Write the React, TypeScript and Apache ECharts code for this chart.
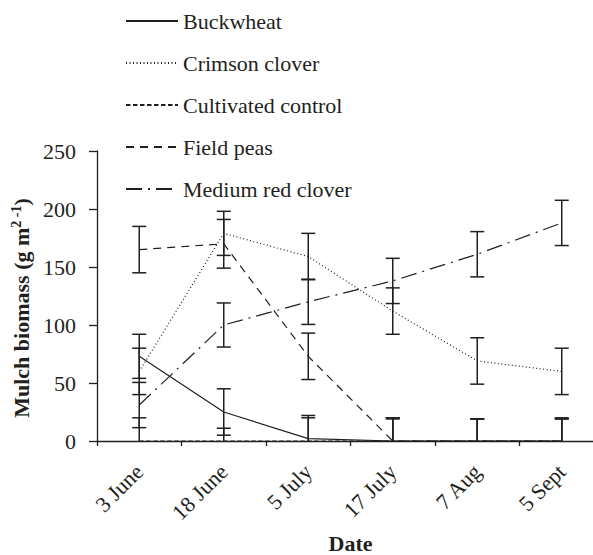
import React, { useEffect, useRef } from "react";
import * as echarts from "echarts";

const categories = ["3 June", "18 June", "5 July", "17 July", "7 Aug", "5 Sept"];
const yTicks = [0, 50, 100, 150, 200, 250];

const buckwheat = [73, 25, 2, 0, 0, 0];
const crimsonClover = [60, 179, 159, 112, 69, 60];
const cultivatedControl = [0, 0, 0, 0, 0, 0];
const fieldPeas = [165, 170, 73, 0, 0, 0];
const mediumRedClover = [31, 100, 120, 138, 161, 188];

const buckwheatSE = [19, 20, 20, 19, 19, 19];
const crimsonCloverSE = [20, 19, 20, 20, 20, 20];
const cultivatedControlSE = [20, 11, 20, 20, 19, 20];
const fieldPeasSE = [20, 21, 20, 20, 19, 19];
const mediumRedCloverSE = [19.5, 19, 19.5, 19.5, 19.5, 19.5];

const seriesNames = ["Buckwheat", "Crimson clover", "Cultivated control", "Field peas", "Medium red clover"];
const seriesValues = [buckwheat, crimsonClover, cultivatedControl, fieldPeas, mediumRedClover];
const seriesSE = [buckwheatSE, crimsonCloverSE, cultivatedControlSE, fieldPeasSE, mediumRedCloverSE];
const dashTypes: any[] = ["solid", [1, 2.5], [4.5, 2.5], [8, 6], [16, 6, 2, 6]];

const FONT = "Liberation Serif";
const INK = "#231f20";

export default function App() {
  const ref = useRef<HTMLDivElement>(null);
  useEffect(() => {
    if (!ref.current) return;
    const chart = echarts.init(ref.current, undefined, { renderer: "svg" });

    const lineSeries = seriesNames.map((name, k) => ({
      name,
      type: "line",
      data: seriesValues[k],
      symbol: "none",
      showSymbol: false,
      lineStyle: { color: INK, width: 1.2, type: dashTypes[k] },
      itemStyle: { color: INK },
      z: 3,
    }));

    const errorSeries = seriesNames.map((name, k) => ({
      name: name + " SE",
      type: "custom",
      data: categories.map((c, i) => [i, seriesValues[k][i], seriesSE[k][i]]),
      renderItem: (params: any, api: any) => {
        const x = api.value(0);
        const v = api.value(1);
        const e = api.value(2);
        const hi = v + e;
        const lo = Math.max(0, v - e);
        const pHi = api.coord([x, hi]);
        const pLo = api.coord([x, lo]);
        const w = 7;
        const style = { stroke: INK, lineWidth: 1.5, fill: "none" };
        const children: any[] = [
          { type: "line", shape: { x1: pHi[0], y1: pHi[1], x2: pLo[0], y2: pLo[1] }, style },
          { type: "line", shape: { x1: pHi[0] - w, y1: pHi[1], x2: pHi[0] + w, y2: pHi[1] }, style },
        ];
        if (v - e > 0) {
          children.push({ type: "line", shape: { x1: pLo[0] - w, y1: pLo[1], x2: pLo[0] + w, y2: pLo[1] }, style });
        }
        return { type: "group", children };
      },
      z: 4,
    }));

    chart.setOption({
      animation: false,
      backgroundColor: "#fff",
      textStyle: { fontFamily: FONT, color: INK },
      legend: {
        data: seriesNames,
        orient: "vertical",
        left: 120,
        top: 5,
        itemWidth: 52,
        itemHeight: 22,
        itemGap: 20,
        itemStyle: { color: "rgba(0,0,0,0)", borderColor: "rgba(0,0,0,0)", borderWidth: 0, opacity: 0 },
        textStyle: { fontFamily: FONT, fontSize: 22, color: INK, lineHeight: 22 },
      },
      grid: { left: 97, top: 151, width: 507, height: 290, containLabel: false, outerBoundsMode: "none" },
      xAxis: {
        type: "category",
        data: categories,
        boundaryGap: true,
        name: "Date",
        nameLocation: "middle",
        nameGap: 91,
        nameTextStyle: { fontFamily: FONT, fontSize: 22, fontWeight: "bold", color: INK },
        axisLine: { lineStyle: { color: INK, width: 1.3 } },
        axisTick: { show: true, length: 5, inside: false, lineStyle: { color: INK, width: 1.3 } },
        axisLabel: { rotate: 45, margin: 27, fontFamily: FONT, fontSize: 22, color: INK },
        splitLine: { show: false },
      },
      yAxis: {
        type: "value",
        min: yTicks[0],
        max: yTicks[yTicks.length - 1],
        interval: 50,
        name: "Mulch biomass (g m{sup|2 -1})",
        nameLocation: "middle",
        nameGap: 62,
        nameRotate: 90,
        nameTextStyle: {
          fontFamily: FONT,
          fontSize: 22,
          fontWeight: "bold",
          color: INK,
          padding: [0, 24, 0, 0],
          rich: {
            sup: { fontFamily: FONT, fontSize: 14, fontWeight: "bold", color: INK, padding: [0, 0, 10, 0] },
          },
        },
        axisLine: { show: true, lineStyle: { color: INK, width: 1.3 } },
        axisTick: { show: true, length: 8, inside: false, lineStyle: { color: INK, width: 1.3 } },
        axisLabel: { margin: 21, fontFamily: FONT, fontSize: 22, color: INK },
        splitLine: { show: false },
      },
      series: [...lineSeries, ...errorSeries],
    });

    return () => chart.dispose();
  }, []);

  return <div ref={ref} style={{ width: 593, height: 555, position: "absolute", left: 0, top: 0 }} />;
}
